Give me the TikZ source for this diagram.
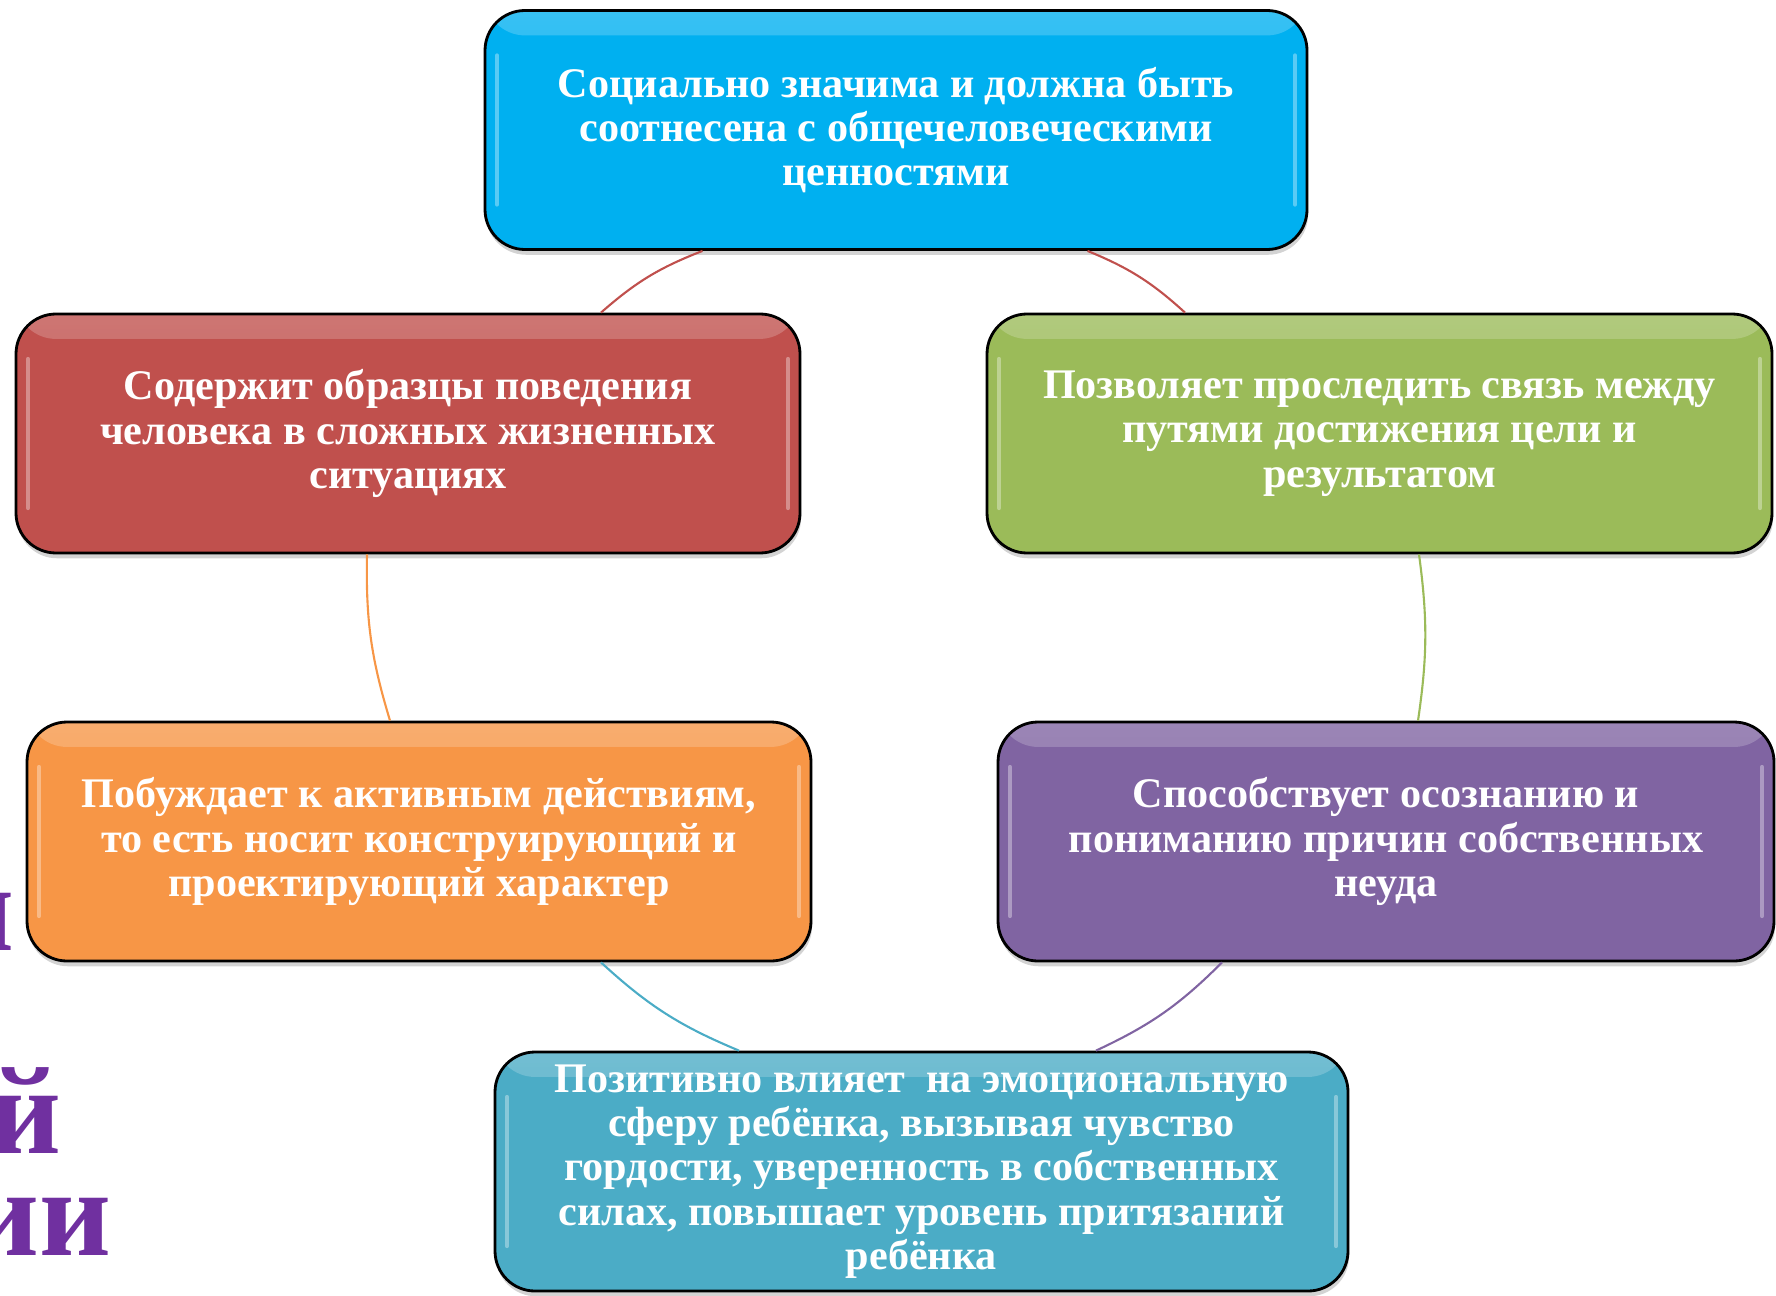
\documentclass[tikz,border=0pt]{standalone}
\usepackage{fontspec}
\setmainfont{Liberation Serif}
\usetikzlibrary{shadows,fadings}

\definecolor{topblue}{HTML}{00B0F0}
\definecolor{boxred}{HTML}{C0504D}
\definecolor{boxgreen}{HTML}{9BBB59}
\definecolor{boxorange}{HTML}{F79646}
\definecolor{boxpurple}{HTML}{8064A2}
\definecolor{boxteal}{HTML}{4BACC6}
\definecolor{titlepurple}{HTML}{7030A0}

\tikzset{
  card/.style={draw=black, line width=0.8pt, rounded corners=0.4cm,
    minimum height=2.39cm, text=white, align=center, inner sep=0pt,
    font=\fontsize{12}{12.6}\selectfont\bfseries,
    drop shadow={shadow xshift=0.3pt, shadow yshift=-1.5pt, opacity=0.35},
    path picture={
      \fill[white, path fading=south, opacity=0.22]
        (path picture bounding box.north west) rectangle
        ([yshift=-0.25cm]path picture bounding box.north east);
      \draw[white, opacity=0.35, line width=1.2pt, line cap=round]
        ([xshift=0.12cm,yshift=-0.45cm]path picture bounding box.north west) --
        ([xshift=0.12cm,yshift=0.45cm]path picture bounding box.south west);
      \draw[white, opacity=0.35, line width=1.2pt, line cap=round]
        ([xshift=-0.12cm,yshift=-0.45cm]path picture bounding box.north east) --
        ([xshift=-0.12cm,yshift=0.45cm]path picture bounding box.south east);
    }},
  link/.style={line width=0.6pt},
  title/.style={text=titlepurple, inner sep=0pt, anchor=base east,
    font=\fontsize{35.5}{40}\selectfont\bfseries}
}

\begin{document}
\begin{tikzpicture}

  \useasboundingbox (0,0) rectangle (17.76,12.95);
  \clip (0,0) rectangle (17.76,12.95);

    % Title behind the cycle (cut off at the left)
    \node[title] (title1) at (0.15, 3.45) {и};
    \node[title] (title2) at (0.62, 1.42) {й};
    \node[title] (title3) at (1.12, 0.40) {ии};

    % Top
    \node[card, fill=topblue, minimum width=8.22cm] (top) at (8.96, 11.65)
      {Социально значима и должна быть\\соотнесена с общечеловеческими\\ценностями};

    % Left, upper
    \node[card, fill=boxred, minimum width=7.84cm] (red) at (4.08, 8.615)
      {Содержит образцы поведения\\человека в сложных жизненных\\ситуациях};

    % Right, upper
    \node[card, fill=boxgreen, minimum width=7.85cm] (green) at (13.795, 8.615)
      {Позволяет проследить связь между\\путями достижения цели и\\результатом};

    % Left, lower
    \node[card, fill=boxorange, minimum width=7.84cm] (orange) at (4.19, 4.535)
      {Побуждает к активным действиям,\\то есть носит конструирующий и\\проектирующий характер};

    % Right, lower
    \node[card, fill=boxpurple, minimum width=7.76cm] (purple) at (13.86, 4.535)
      {Способствует осознанию и\\пониманию причин собственных\\неуда};

    % Bottom
    \node[card, fill=boxteal, minimum width=8.53cm] (bottom) at (9.215, 1.235)
      {Позитивно влияет\ \ на эмоциональную\\сферу ребёнка, вызывая чувство\\гордости, уверенность в собственных\\силах, повышает уровень притязаний\\ребёнка};

    % Cycle arcs
    \draw[link, boxred] ([xshift=-1.935cm]top.south) to[bend right=10] ([xshift=1.93cm]red.north);
    \draw[link, boxorange] ([xshift=-0.41cm]red.south) to[bend right=9] ([xshift=-0.29cm]orange.north);
    \draw[link, boxteal] ([xshift=1.82cm]orange.south) to[bend right=10] ([xshift=-1.825cm]bottom.north);
    \draw[link, boxpurple] ([xshift=1.745cm]bottom.north) to[bend right=10] ([xshift=-1.64cm]purple.south);
    \draw[link, boxgreen] ([xshift=0.32cm]purple.north) to[bend right=8] ([xshift=0.395cm]green.south);
    \draw[link, boxred] ([xshift=-1.945cm]green.north) to[bend right=10] ([xshift=1.915cm]top.south);

\end{tikzpicture}
\end{document}
